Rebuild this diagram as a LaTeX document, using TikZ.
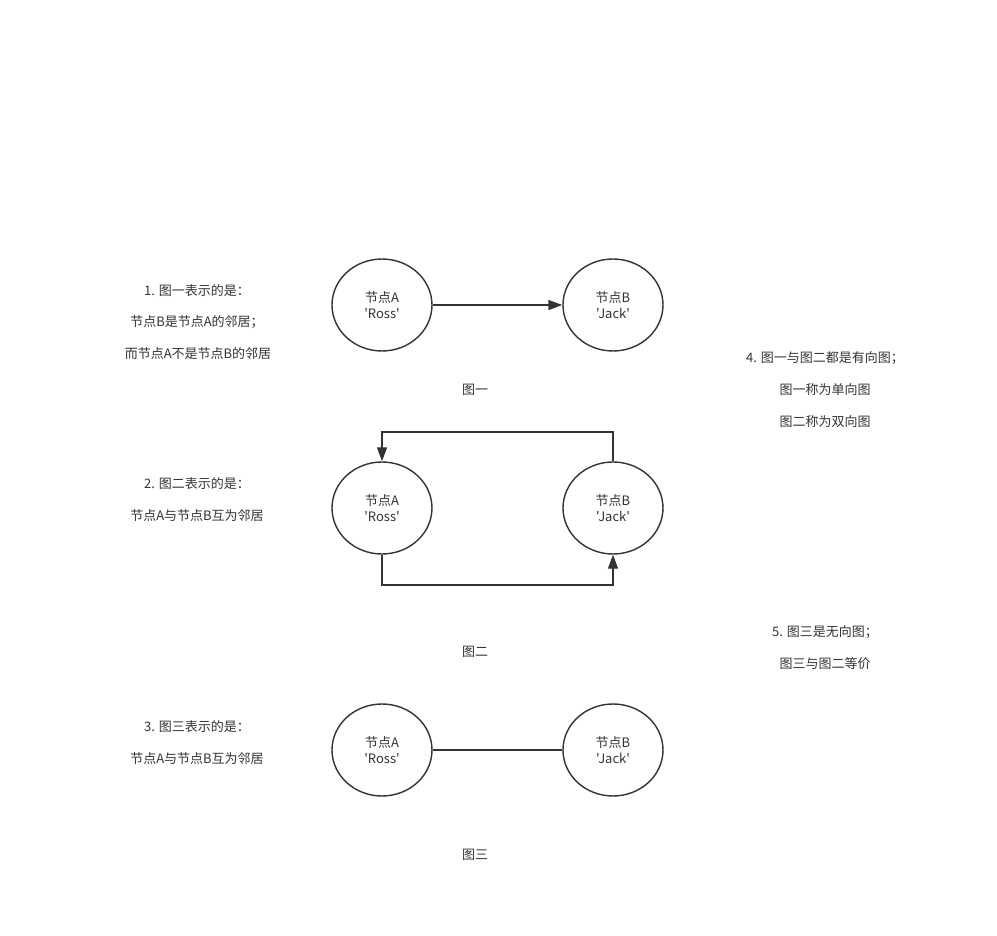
\documentclass[tikz,border=0pt]{standalone}
\usepackage{fontspec}
\setmainfont{Noto Sans CJK SC}[Ligatures=TeXOff]
\usetikzlibrary{arrows.meta,shapes.geometric}
\definecolor{ink}{HTML}{333333}
\tikzset{
  gnode/.style={draw=ink, line width=1.4pt, ellipse, minimum width=100pt, minimum height=92pt, inner sep=0pt, align=center, text=ink, font=\fontsize{13}{16}\selectfont},
  lbl/.style={text=ink, font=\fontsize{13}{15}\selectfont, inner sep=0pt},
  conn/.style={draw=ink, line width=1.4pt},
  arr/.style={conn, -{Triangle[length=14pt,width=10pt]}},
}
\begin{document}
\begin{tikzpicture}[x=1pt,y=-1pt]
\useasboundingbox (0,0) rectangle (997,936);
% row 1
\node[gnode] (a1) at (382,305) {节点A\\'Ross'};
\node[gnode] (b1) at (613,305) {节点B\\'Jack'};
\draw[arr] (a1.east) -- (b1.west);
\node[lbl] (f1) at (475,390) {图一};
% row 2
\node[gnode] (a2) at (382,508) {节点A\\'Ross'};
\node[gnode] (b2) at (613,508) {节点B\\'Jack'};
\coordinate (t1) at (613,432);
\coordinate (t2) at (382,432);
\coordinate (u1) at (382,585);
\coordinate (u2) at (613,585);
\draw[arr] (b2.north) -- (t1) -- (t2) -- (a2.north);
\draw[arr] (a2.south) -- (u1) -- (u2) -- (b2.south);
\node[lbl] (f2) at (475,652) {图二};
% row 3
\node[gnode] (a3) at (382,750) {节点A\\'Ross'};
\node[gnode] (b3) at (613,750) {节点B\\'Jack'};
\draw[conn] (a3.east) -- (b3.west);
\node[lbl] (f3) at (475,855) {图三};
% left texts
\node[lbl] (l11) at (197,291) {1. 图一表示的是：};
\node[lbl] (l12) at (197,322) {节点B是节点A的邻居；};
\node[lbl] (l13) at (198,354) {而节点A不是节点B的邻居};
\node[lbl] (l21) at (197,484) {2. 图二表示的是：};
\node[lbl] (l22) at (197,516) {节点A与节点B互为邻居};
\node[lbl] (l31) at (197,727) {3. 图三表示的是：};
\node[lbl] (l32) at (197,759) {节点A与节点B互为邻居};
% right texts
\node[lbl] (r41) at (825,358) {4. 图一与图二都是有向图；};
\node[lbl] (r42) at (825,390) {图一称为单向图};
\node[lbl] (r43) at (825,422) {图二称为双向图};
\node[lbl] (r51) at (825,632) {5. 图三是无向图；};
\node[lbl] (r52) at (825,664) {图三与图二等价};
\end{tikzpicture}
\end{document}
